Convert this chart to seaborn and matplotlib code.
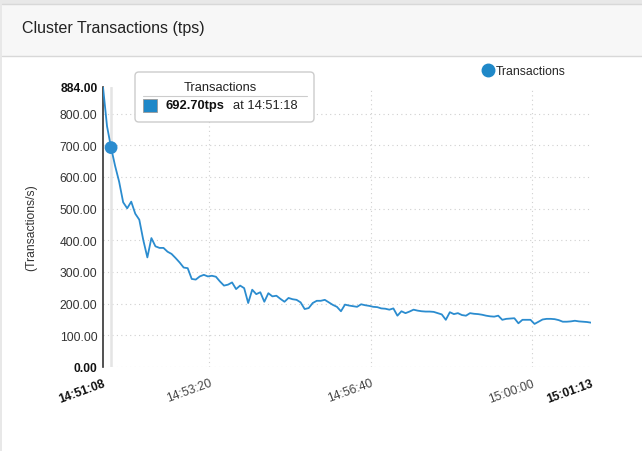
import pandas as pd
import matplotlib.pyplot as plt
import matplotlib.dates as mdates
from matplotlib.patches import Rectangle, FancyBboxPatch
from matplotlib.lines import Line2D
import seaborn as sns

# Data (one sample every 5 s)
start_time = "2015-01-01 14:51:08"
tps = [884, 760, 692.7, 635, 585, 520, 501, 522, 484, 465,
       400, 346, 407, 381, 376, 376, 364, 357, 344, 330,
       314, 312, 278, 276, 286, 291, 286, 288, 285, 270,
       257, 260, 267, 246, 257, 249, 202, 244, 230, 236,
       206, 233, 223, 225, 215, 206, 218, 214, 212, 204,
       183, 186, 202, 209, 209, 212, 204, 196, 190, 176,
       197, 194, 192, 190, 198, 195, 193, 190, 189, 185,
       184, 181, 185, 162, 176, 170, 175, 181, 178, 176,
       175, 175, 174, 170, 166, 149, 173, 167, 170, 164,
       162, 170, 168, 167, 165, 162, 160, 159, 162, 149,
       152, 153, 154, 138, 149, 149, 149, 136, 143, 150,
       152, 152, 151, 148, 143, 143, 144, 146, 144, 143,
       142, 140]
x_tick_labels = ["14:51:08", "14:53:20", "14:56:40", "15:00:00", "15:01:13"]
y_ticks = [0, 100, 200, 300, 400, 500, 600, 700, 800, 884]
hover_time = "14:51:18"
hover_value = 692.70

times = pd.date_range(start_time, periods=len(tps), freq="5s")
df = pd.DataFrame({"time": times, "tps": tps})
day = start_time.split(" ")[0]
tick_dt = [mdates.date2num(pd.Timestamp(day + " " + t)) for t in x_tick_labels]
hover_dt = mdates.date2num(pd.Timestamp(day + " " + hover_time))

sns.set_style("white")
plt.rcParams["font.family"] = ["Liberation Sans", "DejaVu Sans"]

W, H = 642, 452
def fx(px):
    return px / W
def fy(py):
    return 1 - py / H

line_color = "#2b8ccf"

fig = plt.figure(figsize=(W / 100, H / 100), dpi=100)
fig.patch.set_facecolor("#e8e8e8")
# white panel + header bar
fig.add_artist(Rectangle((fx(2), 0), 1, fy(5), transform=fig.transFigure,
                         facecolor="white", edgecolor="none", zorder=-2))
fig.add_artist(Rectangle((fx(2), fy(57)), 1, fy(5) - fy(57), transform=fig.transFigure,
                         facecolor="#f7f7f7", edgecolor="none", zorder=-1))
for yy in (5, 57):
    fig.add_artist(Line2D([fx(2), 1], [fy(yy), fy(yy)], transform=fig.transFigure,
                          color="#d8d8d8", lw=1))
fig.text(fx(22), fy(28), "Cluster Transactions (tps)", fontsize=11.5,
         color="#222222", va="center", ha="left")

ax = fig.add_axes([fx(103), fy(368), fx(591) - fx(103), fy(88) - fy(368)])
ax.set_facecolor("none")

# grid lines
grid_kw = dict(color="#d0d0d0", lw=0.8, linestyle=(0, (1, 3)), zorder=0)
for v in y_ticks[:-1]:
    ax.axhline(v, **grid_kw)
for t in tick_dt[1:-1]:
    ax.axvline(t, **grid_kw)

# hover crosshair
ax.axvline(hover_dt, color="#e4e4e4", lw=1.8, zorder=1)

sns.lineplot(data=df, x="time", y="tps", ax=ax, color=line_color, lw=1.3,
             legend=False, zorder=3)
ax.scatter([hover_dt], [hover_value], s=85, color=line_color, zorder=4,
           edgecolor="none")

ax.set_xlim(tick_dt[0], tick_dt[-1])
ax.set_ylim(0, y_ticks[-1])
ax.set_yticks(y_ticks)
ax.set_yticklabels([f"{v:.2f}" for v in y_ticks], fontsize=8.7, color="#333333")
ax.set_xticks(tick_dt)
ax.set_xticklabels(x_tick_labels, fontsize=8.7, color="#444444",
                   rotation=20, ha="right", rotation_mode="anchor")
for lab in (ax.get_yticklabels()[0], ax.get_yticklabels()[-1],
            ax.get_xticklabels()[0], ax.get_xticklabels()[-1]):
    lab.set_fontweight("bold")
    lab.set_color("#111111")
ax.tick_params(axis="both", length=0)
ax.tick_params(axis="y", pad=4)
ax.tick_params(axis="x", pad=7)

for s in ("top", "right", "bottom"):
    ax.spines[s].set_visible(False)
ax.spines["left"].set_color("#333333")
ax.spines["left"].set_linewidth(1.2)

ax.set_xlabel("")
ax.set_ylabel("(Transactions/s)", fontsize=8.7, color="#333333")
ax.yaxis.set_label_coords((37 - 103) / 488, 0.5)

# legend
leg_handle = Line2D([], [], marker="o", linestyle="", color="#1f88c8", markersize=9)
fig.legend(handles=[leg_handle], labels=["Transactions"], loc="center left",
           bbox_to_anchor=(fx(481), fy(72)), frameon=False, fontsize=8.8,
           handletextpad=0.0, handlelength=1.2, borderpad=0, borderaxespad=0)

# tooltip
tip = FancyBboxPatch((fx(135), fy(123)), fx(314) - fx(135), fy(73) - fy(123),
                     boxstyle="round,pad=0,rounding_size=0.006",
                     mutation_aspect=W / H, transform=fig.transFigure,
                     facecolor="white", edgecolor="#cccccc", lw=1, zorder=10)
fig.add_artist(tip)
fig.text(fx(220), fy(88), "Transactions", fontsize=9.3, color="#222222",
         ha="center", va="center", zorder=11)
fig.add_artist(Line2D([fx(143), fx(307)], [fy(97), fy(97)], transform=fig.transFigure,
                      color="#cccccc", lw=0.8, zorder=11))
fig.add_artist(Rectangle((fx(143), fy(113)), fx(157) - fx(143), fy(100) - fy(113),
                         transform=fig.transFigure, facecolor="#1f88c8",
                         edgecolor="#9a9a9a", lw=0.6, zorder=11))
fig.text(fx(166), fy(106), f"{hover_value:.2f}tps", fontsize=9.3, fontweight="bold",
         color="#111111", ha="left", va="center", zorder=11)
fig.text(fx(233), fy(106), f"at {hover_time}", fontsize=9.3, color="#222222",
         ha="left", va="center", zorder=11)

fig.savefig("out.png", dpi=100)
